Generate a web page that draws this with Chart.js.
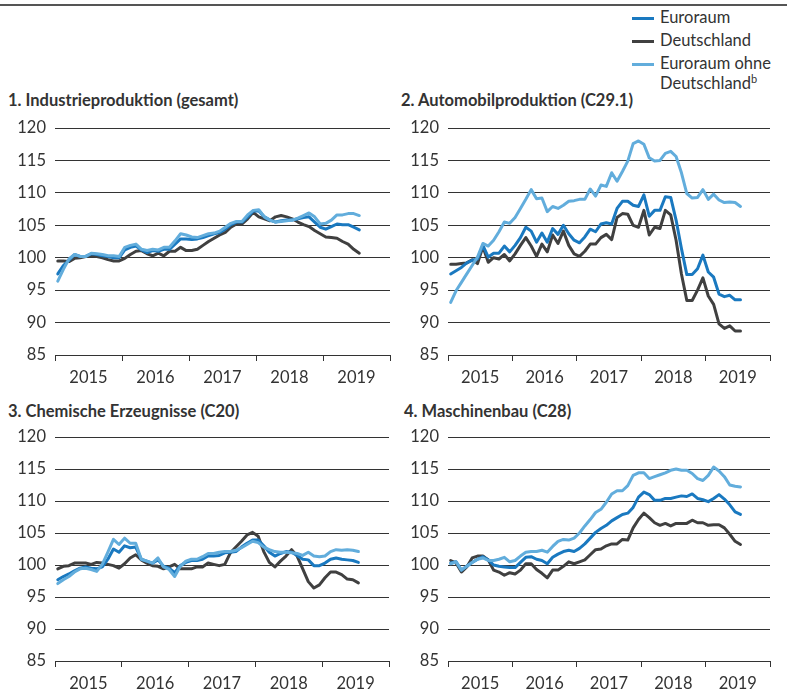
<!DOCTYPE html>
<html><head><meta charset="utf-8">
<script src="https://cdn.jsdelivr.net/npm/chart.js@4"></script>
<style>
html,body{margin:0;padding:0;width:787px;height:695px;overflow:hidden;background:#fff;font-family:Lato,"Open Sans",sans-serif;color:#333}
.topline{position:absolute;left:0;top:4px;width:787px;height:2px;background:#555}
canvas{position:absolute}
.title{position:absolute;font-weight:bold;font-size:16.5px;color:#333;white-space:nowrap;line-height:20px}
.leg{position:absolute;left:632px;font-size:16.5px;color:#333;line-height:20px}
.leg .row{position:relative;padding-left:28px;height:23px;white-space:nowrap}
.leg .sw{position:absolute;left:0;top:10px;width:22px;height:3px}
</style></head>
<body>
<div class="topline"></div>
<div class="leg" style="top:7px">
  <div class="row"><span class="sw" style="background:#1a79c0"></span>Euroraum</div>
  <div class="row"><span class="sw" style="background:#404040"></span>Deutschland</div>
  <div class="row" style="height:44px"><span class="sw" style="background:#62addc"></span>Euroraum ohne<br>Deutschland<sup style="font-size:11px;line-height:0">b</sup></div>
</div>
<div class="title" style="left:8px;top:90px">1. Industrieproduktion (gesamt)</div>
<div class="title" style="left:401px;top:90px">2. Automobilproduktion (C29.1)</div>
<div class="title" style="left:8px;top:401px">3. Chemische Erzeugnisse (C20)</div>
<div class="title" style="left:404px;top:401px">4. Maschinenbau (C28)</div>
<canvas id="c1" style="left:0;top:118px" width="393" height="273"></canvas>
<canvas id="c2" style="left:393px;top:118px" width="380" height="273"></canvas>
<canvas id="c3" style="left:0;top:427px" width="392" height="270"></canvas>
<canvas id="c4" style="left:393px;top:427px" width="380" height="270"></canvas>
<script>
// Years on the x axis (monthly data Jan 2015 - Jul 2019)
const years = ['2015','2016','2017','2018','2019'];
const yTicks = [85, 90, 95, 100, 105, 110, 115, 120];
const seriesNames = ['Euroraum', 'Deutschland', 'Euroraum ohne Deutschland'];

// 1. Industrieproduktion (gesamt)
const p1Euro = [97.5,98.8,99.6,100.5,100.2,100.2,100.6,100.5,100.3,100.2,100.0,100.0,
 101.2,101.6,101.8,101.2,100.8,101.1,101.0,101.3,101.3,102.1,102.9,102.9,
 102.8,102.9,103.1,103.4,103.7,103.9,104.4,105.1,105.5,105.5,106.3,107.2,
 107.2,106.3,105.8,105.5,105.7,105.8,105.8,106.0,106.2,106.3,105.5,104.7,
 104.4,104.8,105.2,105.1,105.1,104.7,104.3];
const p1DE = [99.5,99.5,99.4,99.9,100.0,100.2,100.3,100.2,100.0,99.7,99.5,99.5,
 99.9,100.5,101.0,101.1,100.6,100.3,100.7,100.3,101.0,101.0,101.6,101.1,
 101.1,101.3,101.9,102.5,103.0,103.5,103.9,104.7,105.2,105.2,106.0,107.0,
 106.3,106.0,105.7,106.3,106.5,106.3,106.0,105.5,105.1,104.8,104.2,103.7,
 103.2,103.1,103.0,102.5,102.1,101.3,100.7];
const p1Ohne = [96.4,98.2,99.8,100.5,100.2,100.2,100.7,100.6,100.5,100.3,100.3,100.2,
 101.6,101.9,102.1,101.3,101.1,101.3,101.2,101.6,101.6,102.6,103.7,103.5,
 103.2,103.1,103.4,103.7,103.8,104.1,104.7,105.3,105.6,105.6,106.6,107.3,
 107.4,106.3,105.8,105.5,105.6,105.7,105.8,106.1,106.5,106.9,106.3,105.2,
 105.3,105.8,106.6,106.6,106.8,106.8,106.5];

// 2. Automobilproduktion (C29.1)
const p2Euro = [97.5,98.0,98.5,99.2,99.6,99.8,101.9,100.1,100.7,100.7,101.8,100.9,
 101.9,103.1,104.7,104.1,102.4,103.8,102.4,104.5,103.6,105.0,103.7,102.7,
 102.3,103.2,104.4,104.0,105.2,105.4,105.2,107.6,108.7,108.7,108.1,107.9,
 109.7,106.4,107.3,107.3,109.4,109.3,105.8,101.4,97.4,97.4,98.3,100.4,
 97.8,97.0,94.4,94.0,94.2,93.5,93.5];
const p2DE = [99.0,99.0,99.1,99.2,99.7,99.1,101.7,99.3,100.0,99.8,100.5,99.5,
 100.6,101.9,103.1,101.8,100.2,102.1,100.9,103.5,102.2,104.1,101.9,100.6,
 100.2,101.0,102.1,102.1,103.1,103.6,102.8,106.2,106.8,106.7,105.0,104.7,
 107.3,103.5,104.7,104.5,107.3,106.6,102.7,97.5,93.4,93.4,95.0,96.9,
 94.1,92.8,89.8,89.1,89.5,88.7,88.7];
const p2Ohne = [93.1,94.9,96.2,97.5,98.8,100.1,102.2,101.8,102.7,104.0,105.5,105.3,
 106.2,107.6,109.0,110.5,109.1,109.2,107.1,107.9,107.6,108.1,108.7,108.8,
 109.0,109.0,110.6,109.5,111.2,111.0,113.1,111.8,113.3,114.9,117.6,118.0,
 117.5,115.4,114.9,115.0,116.1,116.4,115.6,113.1,109.9,109.2,109.3,110.5,
 109.0,109.8,108.9,108.5,108.6,108.5,107.9];

// 3. Chemische Erzeugnisse (C20)
const p3Euro = [97.7,98.2,98.6,99.1,99.5,99.7,99.5,99.4,99.7,100.9,102.5,102.0,
 103.0,102.7,102.8,100.9,100.6,100.3,100.8,99.8,99.5,98.8,99.9,100.4,
 100.7,100.7,100.9,101.4,101.4,101.5,101.9,102.0,102.1,102.8,103.4,103.9,
 103.9,103.0,102.0,101.4,101.8,102.1,102.0,101.5,100.9,100.8,99.9,99.9,
 100.3,100.9,101.1,100.9,100.8,100.7,100.4];
const p3DE = [99.4,99.8,99.9,100.3,100.3,100.3,100.1,100.4,100.3,100.1,99.9,99.5,
 100.2,101.1,101.6,100.8,100.3,99.9,99.8,99.4,99.7,100.1,99.4,99.4,
 99.4,99.7,99.7,100.3,100.1,99.9,100.1,101.9,102.8,103.7,104.7,105.1,
 104.5,102.1,100.4,99.7,100.6,101.4,102.4,101.4,99.4,97.4,96.4,96.9,
 98.0,98.9,98.9,98.5,97.8,97.7,97.2];
const p3Ohne = [97.1,97.7,98.2,98.9,99.4,99.5,99.3,99.0,100.1,102.0,104.0,103.2,
 104.2,103.4,103.4,100.9,100.6,100.3,101.1,99.7,99.3,98.2,99.8,100.6,
 100.9,100.9,101.3,101.8,101.8,102.0,102.1,102.1,102.3,102.7,103.2,103.7,
 103.5,102.8,102.4,102.1,102.0,102.0,101.9,101.8,101.5,102.0,101.4,101.3,
 101.4,102.1,102.4,102.3,102.4,102.3,102.1];

// 4. Maschinenbau (C28)
const p4Euro = [100.3,100.5,99.2,99.8,100.4,100.9,101.3,100.8,100.0,99.8,99.7,99.6,
 99.6,100.4,101.2,101.3,100.9,100.7,100.2,101.2,101.7,102.1,102.3,102.1,
 102.6,103.3,104.2,105.1,105.7,106.2,106.9,107.4,107.9,108.1,109.0,110.6,
 111.4,111.0,110.1,110.1,110.4,110.4,110.6,110.8,110.7,111.1,110.4,110.2,
 109.9,110.4,111.0,110.3,109.4,108.3,107.9];
const p4DE = [100.7,100.3,98.9,99.7,101.1,101.4,101.4,100.8,99.2,98.9,98.4,98.8,
 98.6,99.2,100.2,100.2,99.3,98.7,98.0,99.2,99.2,99.8,100.5,100.2,
 100.5,100.8,101.6,102.4,102.5,103.0,103.3,103.3,104.0,103.9,105.8,107.1,
 108.1,107.4,106.6,106.2,106.5,106.1,106.5,106.5,106.5,107.0,106.6,106.6,
 106.2,106.3,106.3,105.8,104.8,103.7,103.2];
const p4Ohne = [100.2,100.5,99.2,99.8,100.4,100.9,101.1,100.7,100.7,100.9,101.2,100.5,
 100.7,101.4,102.0,102.1,102.1,102.3,102.0,102.9,103.7,104.0,103.9,104.2,
 105.0,106.1,107.1,108.2,108.7,109.8,111.1,111.6,111.6,112.4,114.0,114.4,
 114.4,113.5,113.8,114.1,114.4,114.8,115.0,114.8,114.8,114.3,113.5,113.2,
 114.0,115.3,114.7,113.8,112.5,112.3,112.2];

const colEuro = '#1a79c0', colDE = '#404040', colOhne = '#62addc';
const FONT = 'Lato';

function pts(arr){ return arr.map((v,i)=>({x:i+0.5, y:v})); }

function makeChart(id, euro, de, ohne){
  const ds = (label, data, color) => ({
    label, data: pts(data), borderColor: color, backgroundColor: color,
    borderWidth: 3, pointRadius: 0, tension: 0, borderJoinStyle: 'round', borderCapStyle: 'round', fill: false
  });
  new Chart(document.getElementById(id), {
    type: 'line',
    data: { datasets: [ ds(seriesNames[2], ohne, colOhne), ds(seriesNames[0], euro, colEuro), ds(seriesNames[1], de, colDE) ] },
    options: {
      responsive: false, animation: false, events: [],
      layout: { padding: { top: 10, right: 3, left: 0, bottom: 0 } },
      plugins: { legend: { display: false }, tooltip: { enabled: false } },
      scales: {
        x: {
          type: 'linear', min: 0, max: 60,
          afterBuildTicks: s => { s.ticks = [0,6,12,18,24,30,36,42,48,54,60].map(v=>({value:v})); },
          afterFit: s => { s.height = 36; s.paddingLeft = 0; s.paddingRight = 0; },
          ticks: { autoSkip: false, maxRotation: 0, padding: 7, color: '#333', font: { family: FONT, size: 16.5 },
                   callback: v => (v % 12 === 6 ? years[(v-6)/12] : '') },
          grid: { drawOnChartArea: false, tickLength: 6, lineWidth: 1,
                  tickColor: c => (c.tick && c.tick.value % 12 === 0 ? '#333' : 'rgba(0,0,0,0)') },
          border: { display: true, color: '#333', width: 1 }
        },
        y: {
          min: 85, max: 120,
          afterBuildTicks: s => { s.ticks = yTicks.map(v=>({value:v})); },
          afterFit: s => { s.width = 55; s.paddingTop = 0; s.paddingBottom = 0; },
          ticks: { padding: 9, color: '#333', font: { family: FONT, size: 16.5 } },
          grid: { color: '#333', lineWidth: 1, drawTicks: false },
          border: { display: false }
        }
      }
    }
  });
}
makeChart('c1', p1Euro, p1DE, p1Ohne);
makeChart('c2', p2Euro, p2DE, p2Ohne);
makeChart('c3', p3Euro, p3DE, p3Ohne);
makeChart('c4', p4Euro, p4DE, p4Ohne);
</script>
</body></html>
